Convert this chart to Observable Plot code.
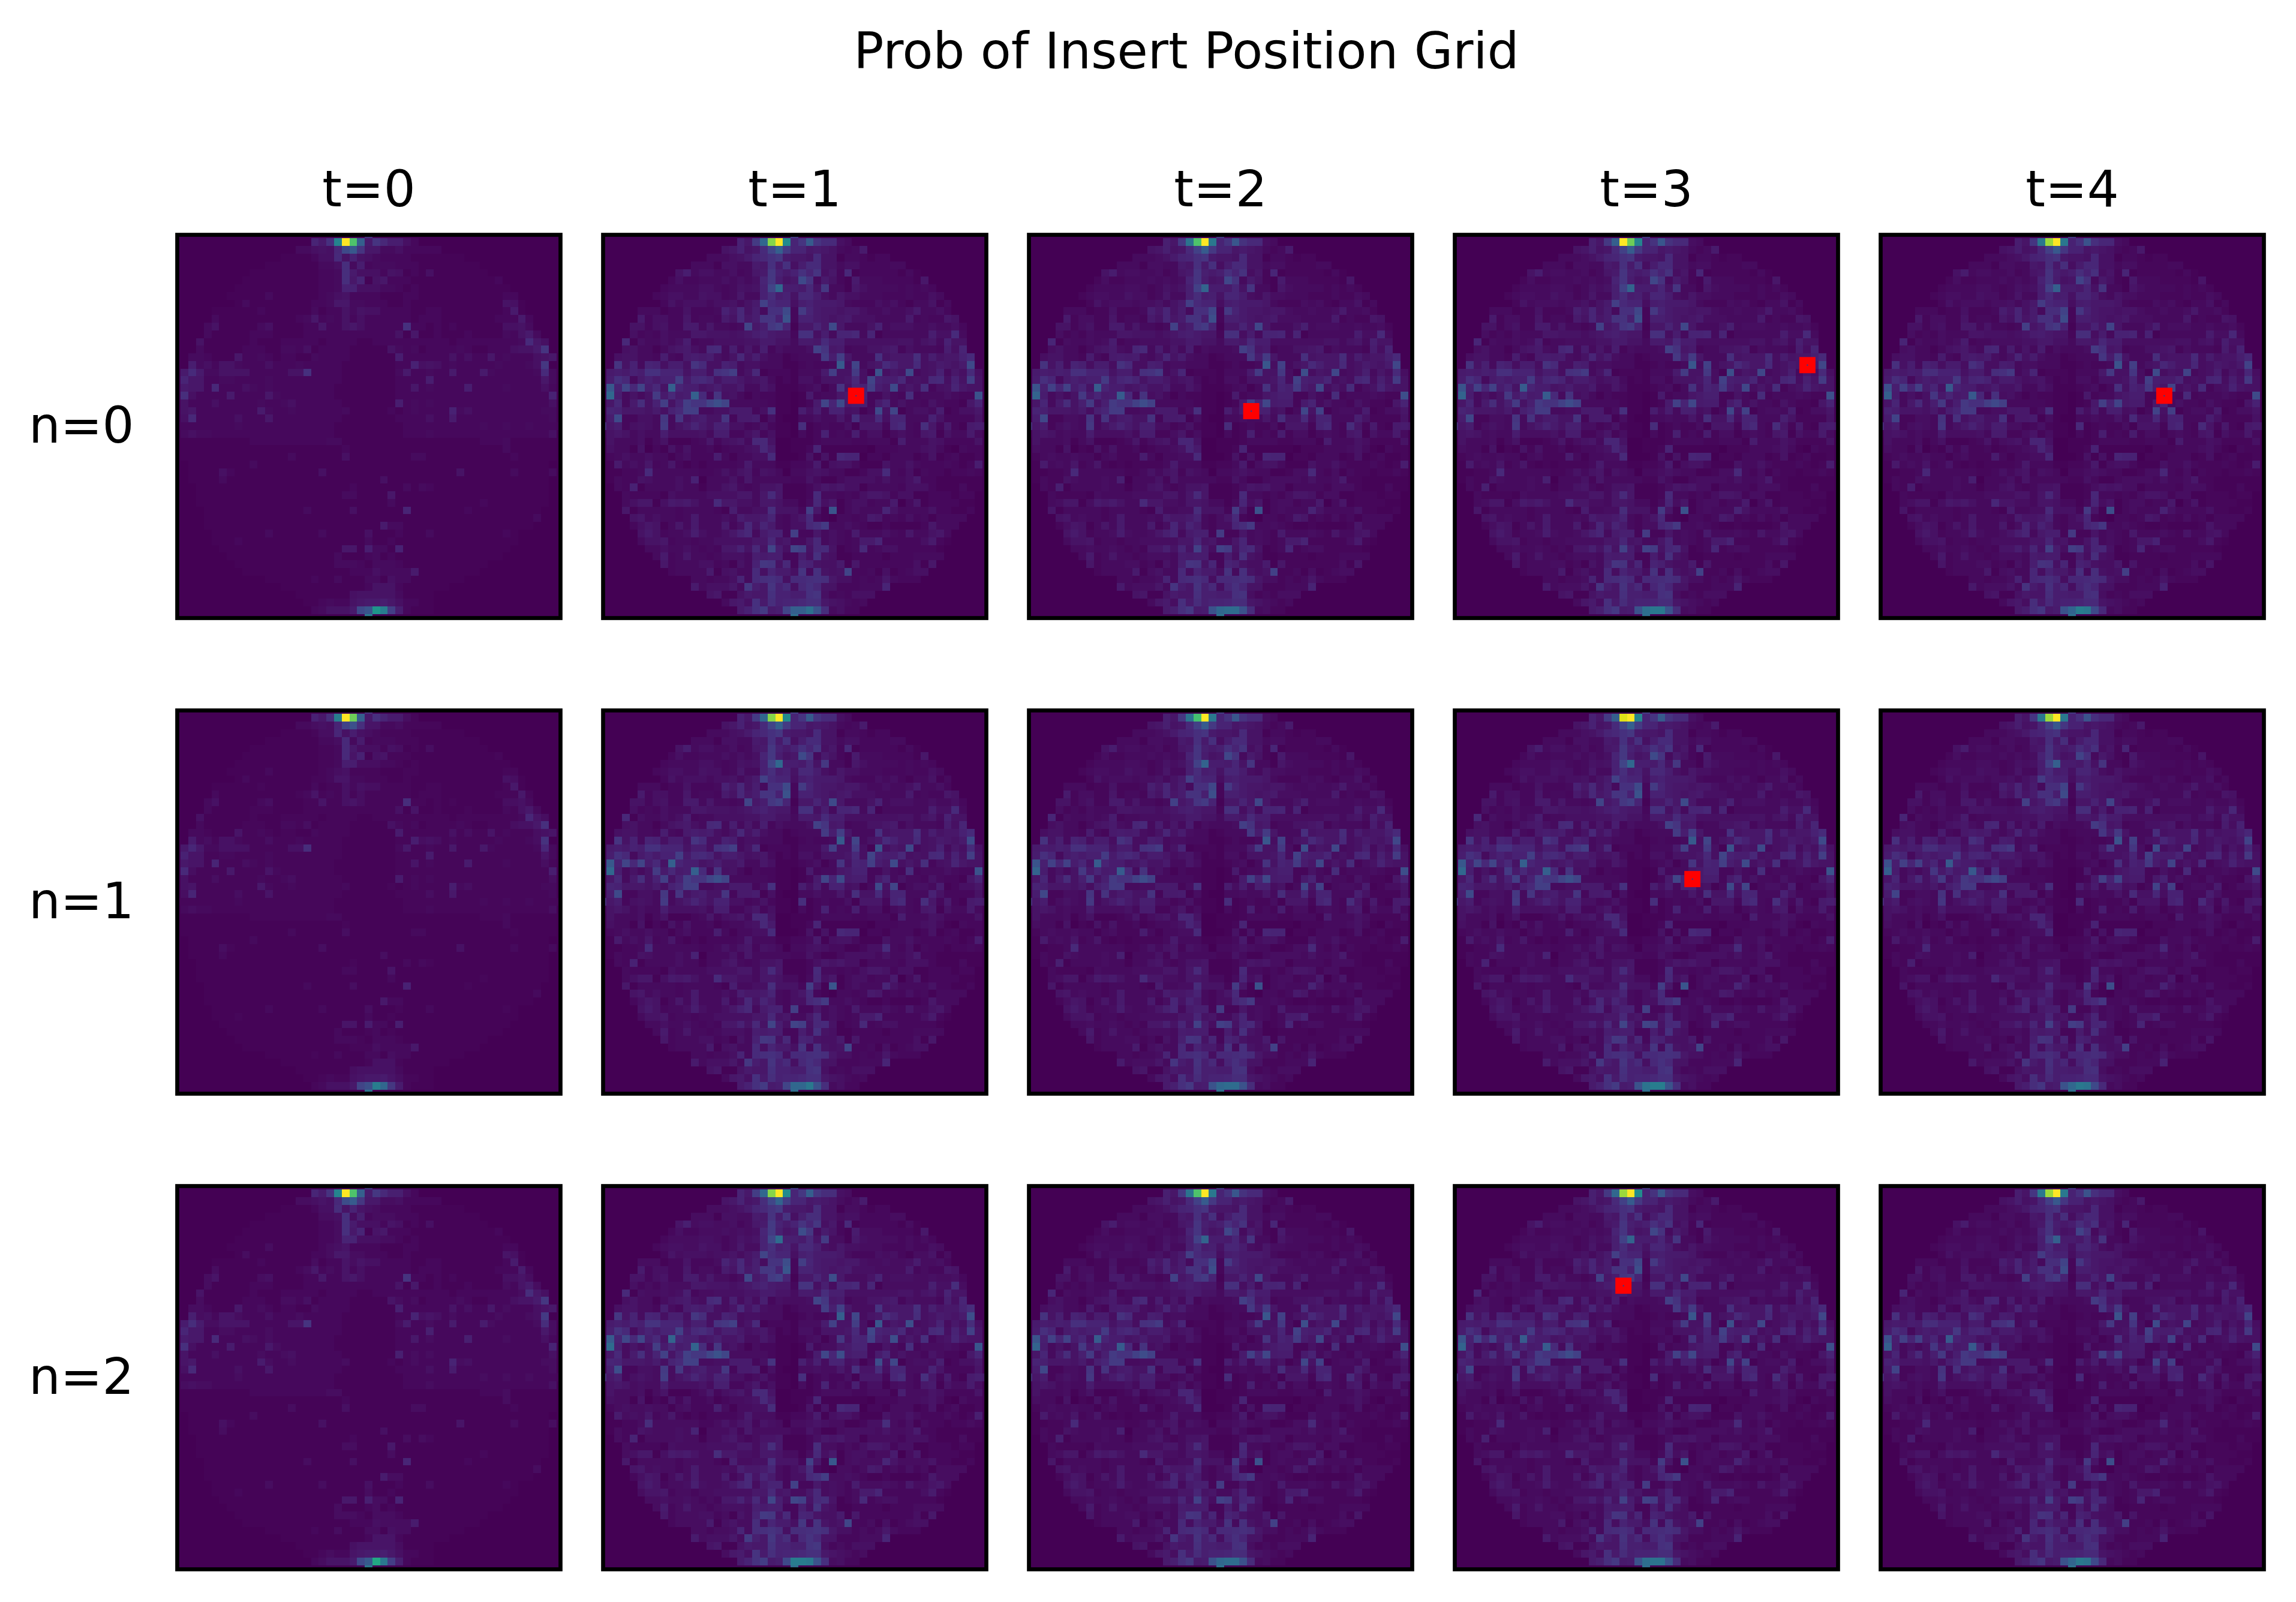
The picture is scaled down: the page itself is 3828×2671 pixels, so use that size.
<!DOCTYPE html>
<html><head><meta charset="utf-8">
<script src="https://cdn.jsdelivr.net/npm/d3@7"></script>
<script src="https://cdn.jsdelivr.net/npm/@observablehq/plot@0.6"></script>
<style>
html,body{margin:0;padding:0;background:#fff}
#title{height:150px;width:3828px;position:relative;font-family:"DejaVu Sans";font-size:83.3px;color:#000}
#title span{position:absolute;left:1978px;top:85px;transform:translate(-50%,-50%);white-space:nowrap}
</style></head><body>
<div id="title"><span>Prob of Insert Position Grid</span></div>
<div id="chart"></div>
<script>
// Cell levels, in hundredths (base 36: a=10 ... z=35).
// The t=0 panels share one read grid, the t>=1 panels another; brightness and peak cells are per panel.
const tLabels = [0,1,2,3,4];
const nLabels = [0,1,2];
const gridEarly = [
"0000000000 0000000000 00000f0000 0000000000 0000000000 0",
"0000000000 00000000a7 ezzzz7fb88 4200000000 0000000000 0",
"0000000000 0000003345 4bmrf66334 2222200000 0000000000 0",
"0000000000 0000111124 4c59543222 2111111100 0000000000 0",
"0000000000 0011111113 34d3823332 2211111111 0000000000 0",
"0000000000 1111111112 23d7444254 1214111111 1000000000 0",
"0000000001 1111111112 23d6a15622 2111111111 1120000000 0",
"0000000011 1111111112 2399444332 1211111111 1111000000 0",
"0000000111 1131111112 3452222111 2211111111 1112200000 0",
"0000000013 1111111122 3663322211 2111111111 1115410000 0",
"0000011111 1211111131 2253544222 2112211111 1112710000 0",
"0000031111 1111112362 3252422222 2122211111 1122272000 0",
"0000351111 1341111226 2256422222 e221212111 1114453000 0",
"0000311111 2221111222 2222222225 1611211121 1113257300 0",
"0005111111 2111222221 2222112222 2222221222 222223c640 0",
"0003111112 2211332412 2221111153 2312222321 12224557f0 0",
"0033211162 2321221132 2221111118 2222225242 2623222456 0",
"0083425532 2242223222 2211111112 2945423222 22322234g0 0",
"07c7335555 2222255e22 2211111113 7223227222 73222223c3 0",
"0a66223322 2232222222 2211111112 2228222222 2222222263 0",
"07662b2224 3232222222 2111111112 2623222282 2223222242 0",
"0d42222722 2263222222 2111111112 2222222222 2222222229 0",
"0522242222 2322342222 2211111118 2323222222 2222222224 0",
"0562222222 2732232222 2231111121 2322229342 2222222233 0",
"04b2222242 2262222222 2211111112 2224227222 2222222223 0",
"1222222232 2222222222 2111111111 2222222222 3223223222 1",
"0343322222 2222222222 2111111111 2223222222 2222222224 0",
"0111111111 2222222222 3311111111 1111111111 2223111111 0",
"0111111111 1111111111 1121111111 1111111111 1113111111 0",
"0111111111 1111131111 1141111111 1331111111 1111211111 0",
"0011111111 3111111111 1111111111 1111111111 1111111110 0",
"0011114211 1111111114 1111111111 1111111511 1111311113 0",
"0011113111 1111111111 1111111411 1111111111 1111111110 0",
"0001111111 1111111111 1112111111 3132111111 1111111110 0",
"0001111111 1111111111 1133111161 1111111111 1111111110 0",
"0001111111 1111111111 1111111131 1111111111 2111111110 0",
"0000111111 1111111311 1114111111 a111111121 1111111100 0",
"0000111111 1111111111 1111111111 1111111111 1111111300 0",
"0000111111 1111111111 1111111733 1111111111 1111111000 0",
"0000011111 1131111113 1111141112 1113111111 1112100000 0",
"0000011121 1111111111 1111131121 1111111111 1111100000 0",
"0000001111 1111111111 1166183319 1111111111 1111000000 0",
"0000000111 1111111111 1311123121 1111111111 1110000000 0",
"0000000011 1111111111 1333213332 1111111111 1000000000 0",
"0000000001 1111111111 1112224333 3711111111 0000000000 0",
"0000000000 0011111121 1311133143 3111111100 0000000000 0",
"0000000000 0000111111 1111125552 1111110000 0000000000 0",
"0000000000 0000001111 1114555553 1111000000 0000000000 0",
"0000000000 0000000112 3225677864 2211000000 0000000000 0",
"0000000000 0000000023 5557zzzzz8 2111000000 0000000000 0",
"0000000000 0000000000 00000z0000 0000000000 0000000000 0"];
const gridLate = [
"0000000000 0000000000 00000h0000 0000000000 0000000000 0",
"0000000000 0000000096 hxzzzafsfc c430000000 0000000000 0",
"0000000000 0000005695 6ckuhaa676 5323700000 0000000000 0",
"0000000000 0000333457 abeg7665c5 5133212200 0000000000 0",
"0000000000 0033314433 76e7e48cc5 5344222233 0000000000 0",
"0000000000 5834433423 67g979eaf4 62b1222221 3100000000 0",
"0000000002 4223334343 4ag856mf37 5217333222 2160000000 0",
"0000000023 3334432354 59kx887b5g 3316433332 3232000000 0",
"0000000234 4335442363 39d895bb84 3644333222 3224300000 0",
"0000000025 3444344535 7jcaa48977 7632224342 1335130000 0",
"0000033312 25222396b5 83eem2ha76 6566433433 4733420000 0",
"0000072442 26233275b6 8ff9p29976 5674443333 7232265000 0",
"0000552452 277363323k 68gia166a6 m633359344 4334334200 0",
"0000423243 3366555456 897662ee48 3aab3a1333 3338 44c300 0",
"000b143343 4823344445 577553776c 8844444445 5356395500 0",
"0004533135 6743bc3836 38243334jf 6723355672 4333284a00 0",
"0045533283 27878435b5 843312333h 8i6333e566 6d485669c0 0",
"00f593a948 84fc449834 4333112322 3s4k356c96 6c457657m0 0",
"078798eeaa a5884efi35 b122213337 i55h41p465 m3459364c4 0",
"08eb379799 i7bca58864 5631214425 556b4k988b 454bc495i5 0",
"0r9kbk8b5u a885685573 3641112341 3f5a9i86m4 64d245a655 0",
"0x83535h7b 78uc3f4531 3221101723 3679922532 d23334322p 0",
"06b37d59i5 9iffkok333 332110127k am78827a35 332532216a 0",
"0a96665749 bii3344777 24e1108483 994513m5k1 3443812446 0",
"08m22443g3 f57855f277 8141003343 363d55c4aa 3339522225 0",
"d6824543h3 57a7599442 352110d123 22416662ac 32d6272178 6",
"1565343384 4445388224 6241103129 2328244134 3267153373 0",
"0533341351 1123624563 bb50011123 3332233318 3335422225 0",
"0433150215 2522312334 5b700112a1 1111102223 3345310322 0",
"0234334331 3422283133 44c0001515 1baa022133 3125123112 0",
"0173436236 2121222237 3331122371 4553111533 5322232128 0",
"011223c333 3332235356 2543033454 3311244c32 4132212232 0",
"0132254333 4390333526 3333322531 1344443533 4722111111 0",
"0032913333 4331335632 3556111246 5644133332 4442111311 0",
"0003222214 3333444466 36c61112c3 3232466524 4112221220 0",
"0003466147 67533c6644 36653313b4 6134423370 3612222110 0",
"0006133333 2333321833 44d5552i61 q134333a53 3335221120 0",
"0000563433 2373334386 67a3246c21 0332376232 4231333300 0",
"0000246513 637333724b 5a73244bdh 3343211211 1126333000 0",
"0000057523 348433469b 37992i2263 4327333432 6335630000 0",
"0000035562 3323344444 66b56336b3 432377a222 2247210000 0",
"0000003343 3432326695 b5k84ki5bc 5123b23442 2222100000 0",
"0000000372 3633234443 87882284e5 4112222122 2333300000 0",
"0000000062 3334423153 9gf5b2a954 4716222222 2416000000 0",
"0000000002 3333714533 c4a774f3e5 45k2231412 3440000000 0",
"0000000000 00332334a3 cdec4ccded 6442323632 2200000000 0",
"0000000000 007344463g 86f9c4beb5 5222333a00 0000000000 0",
"0000000000 0000561157 66e9988ef4 2324440000 0000000000 0",
"0000000000 0000003674 e7d9aabdd6 5432300000 0000000000 0",
"0000000000 0000000079 eh78kuuwpd 3422000000 0000000000 0",
"0000000000 0000000000 00000u0000 0000000000 0000000000 0"];
// panel brightness, by n then t
const panelGain = [
 [1.00,1.00,0.95,0.95,0.90],
 [0.90,1.00,0.95,1.00,0.90],
 [1.05,1.05,0.95,0.95,0.90]];
// top-edge cells of row 1, columns 21-24, by n then t
const topPeaks = [
 [[.45,1,.72,.30],[.33,.82,1,.48],[.38,.72,1,.40],[.30,1,.78,.45],[.40,.85,1,.40]],
 [[.42,1,.78,.30],[.33,.82,1,.48],[.38,.70,1,.40],[.30,.95,1,.45],[.40,.85,1,.40]],
 [[.45,1,.72,.30],[.33,.82,1,.48],[.38,.72,1,.40],[.33,.85,1,.48],[.40,.85,1,.40]]];
// bottom-edge cells of row 49, columns 24-28, by n then t
const bottomPeaks = [
 [[.22,.26,.52,.42,.18],[.20,.30,.30,.36,.25],[.25,.33,.35,.35,.25],[.25,.36,.40,.40,.25],[.25,.32,.42,.40,.22]],
 [[.20,.24,.42,.33,.16],[.20,.33,.33,.40,.25],[.25,.33,.35,.35,.25],[.25,.38,.42,.42,.25],[.25,.33,.40,.38,.22]],
 [[.22,.28,.60,.40,.18],[.22,.42,.42,.40,.25],[.25,.33,.35,.35,.25],[.25,.36,.38,.38,.25],[.25,.32,.40,.38,.22]]];
const bottomTips = [
 [.40,.36,.36,.36,.36],
 [.38,.36,.36,.36,.36],
 [.40,.36,.36,.36,.36]];
const markerN = [0,0,0,0,1,2];
const markerT = [1,2,3,4,3,3];
const markerCol = [33,29,46,37,31,22];
const markerRow = [21,23,17,21,22,13];

const cells = [];
nLabels.forEach(n => tLabels.forEach(t => {
  const rows = (t === 0 ? gridEarly : gridLate);
  rows.forEach((line, r) => {
    const s = line.replace(/ /g, "");
    for (let c = 0; c < 51; c++) {
      let v = parseInt(s[c] || "0", 36) / 100 * panelGain[n][t];
      if (r === 1 && c >= 21 && c <= 24) v = topPeaks[n][t][c - 21];
      if (r === 49 && c >= 24 && c <= 28) v = bottomPeaks[n][t][c - 24];
      if (r === 50 && c === 25) v = bottomTips[n][t];
      cells.push({n, t, r, c, v});
    }
  });
}));
const markers = markerN.map((n, i) => ({n, t: markerT[i], c: markerCol[i], r: markerRow[i]}));

const chart = Plot.plot({
  width: 3828, height: 2521,
  marginLeft: 294.5, marginRight: 53.7, marginTop: 240.3, marginBottom: 54,
  style: {fontFamily: "DejaVu Sans", fontSize: "83.3px", background: "#fff", color: "#000"},
  x: {domain: [0, 50], axis: null},
  y: {domain: [0, 50], reverse: true, axis: null},
  fx: {domain: tLabels, paddingInner: 0.1, paddingOuter: 0},
  fy: {domain: nLabels, paddingInner: 0.1945, paddingOuter: 0},
  color: {type: "linear", scheme: "viridis", domain: [0, 1]},
  marks: [
    Plot.rect(cells, {
      x1: d => d.c - 0.5, x2: d => d.c + 0.5,
      y1: d => d.r - 0.5, y2: d => d.r + 0.5,
      fx: "t", fy: "n", fill: "v", clip: true, shapeRendering: "crispEdges"
    }),
    Plot.dot(markers, {x: "c", y: "r", fx: "t", fy: "n", symbol: "square", r: 15.2, fill: "red", stroke: "none"}),
    Plot.dot(markers, {x: "c", y: "r", fx: "t", fy: "n", r: 1.2, fill: "#2a3f8f", stroke: "none"}),
    Plot.frame({stroke: "black", strokeWidth: 6.67}),
    Plot.axisFx({anchor: "top", label: null, tickSize: 0, tickPadding: 48, fontSize: 83.3, tickFormat: d => `t=${d}`}),
    Plot.axisFy({anchor: "left", label: null, tickSize: 0, tickPadding: 72, fontSize: 83.3, tickFormat: d => `n=${d}`})
  ]
});
document.getElementById("chart").appendChild(chart);
</script>
</body></html>
